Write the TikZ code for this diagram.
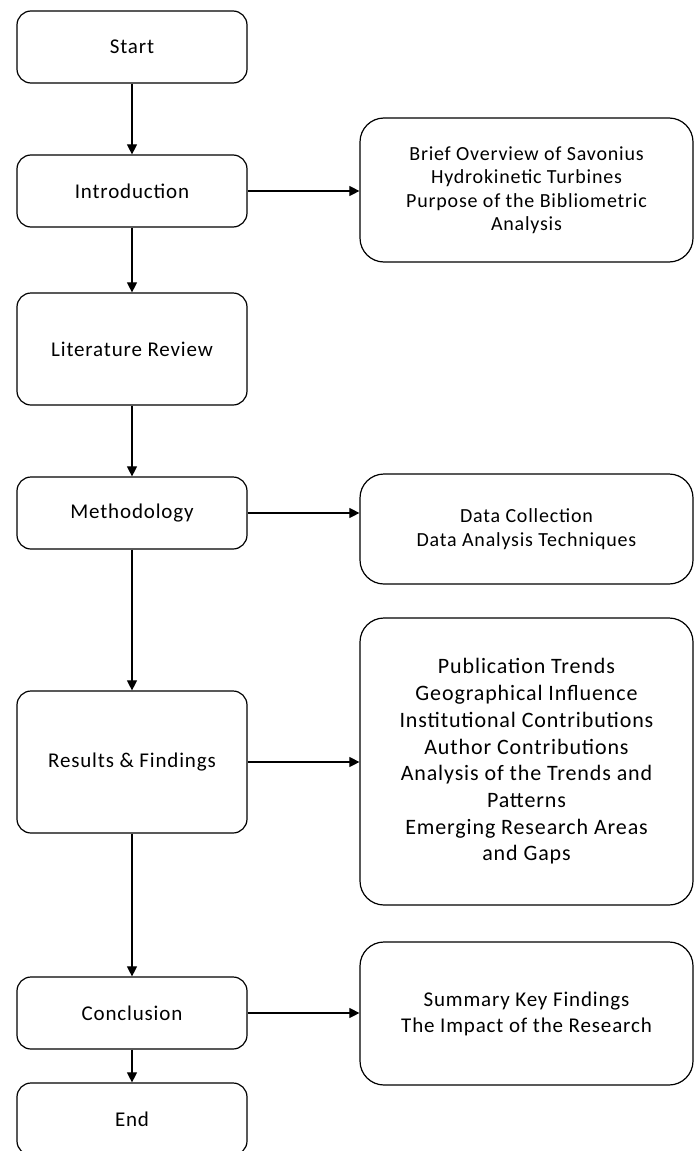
\documentclass[tikz,border=0pt]{standalone}
\usepackage{fontspec}
\setmainfont{Carlito}[LetterSpace=4]
\usetikzlibrary{arrows.meta}

\begin{document}
\begin{tikzpicture}[x=1pt, y=-1pt,
        stage/.style={draw, line width=1.2pt, rounded corners=14pt, minimum width=230pt, align=center, font=\fontsize{21}{26}\selectfont},
        detail/.style={draw, line width=1.2pt, rounded corners=24pt, minimum width=333pt, align=center, font=\fontsize{21}{26}\selectfont},
        link/.style={line width=1.1pt, -{Triangle[length=10pt, width=10pt]}}]
        \useasboundingbox (0,0) rectangle (694,1151);
        \clip (0,0) rectangle (694,1151);

        % main flow
        \node[stage, minimum height=72pt] (start) at (132,47) {Start};
        \node[stage, minimum height=72pt] (intro) at (132,191) {Introduction};
        \node[stage, minimum height=112pt] (review) at (132,349) {Literature Review};
        \node[stage, minimum height=72pt] (method) at (132,513) {Methodology};
        \node[stage, minimum height=142pt] (results) at (132,762) {Results \& Findings};
        \node[stage, minimum height=72pt] (concl) at (132,1013) {Conclusion};
        \node[stage, minimum height=72pt] (end) at (132,1119) {End};

        % side boxes
        \node[detail, minimum height=144pt, font=\fontsize{20}{23.5}\selectfont] (overview) at (526.5,190) {Brief Overview of Savonius\\Hydrokinetic Turbines\\Purpose of the Bibliometric\\Analysis};
        \node[detail, minimum height=110pt, font=\fontsize{20}{24}\selectfont] (data) at (526.5,529) {Data Collection\\Data Analysis Techniques};
        \node[detail, minimum height=287pt, font=\fontsize{22}{26.7}\selectfont] (trends) at (526.5,761.5) {Publication Trends\\Geographical Influence\\Institutional Contributions\\Author Contributions\\Analysis of the Trends and\\Patterns\\Emerging Research Areas\\and Gaps};
        \node[detail, minimum height=143pt] (impact) at (526.5,1013.5) {Summary Key Findings\\The Impact of the Research};

        \draw[link] (start) -- (intro);
        \draw[link] (intro) -- (review);
        \draw[link] (review) -- (method);
        \draw[link] (method) -- (results);
        \draw[link] (results) -- (concl);
        \draw[link] (concl) -- (end);

        \draw[link] (intro.east) -- (intro.east -| overview.west);
        \draw[link] (method.east) -- (method.east -| data.west);
        \draw[link] (results.east) -- (results.east -| trends.west);
        \draw[link] (concl.east) -- (concl.east -| impact.west);
    \end{tikzpicture}
\end{document}
